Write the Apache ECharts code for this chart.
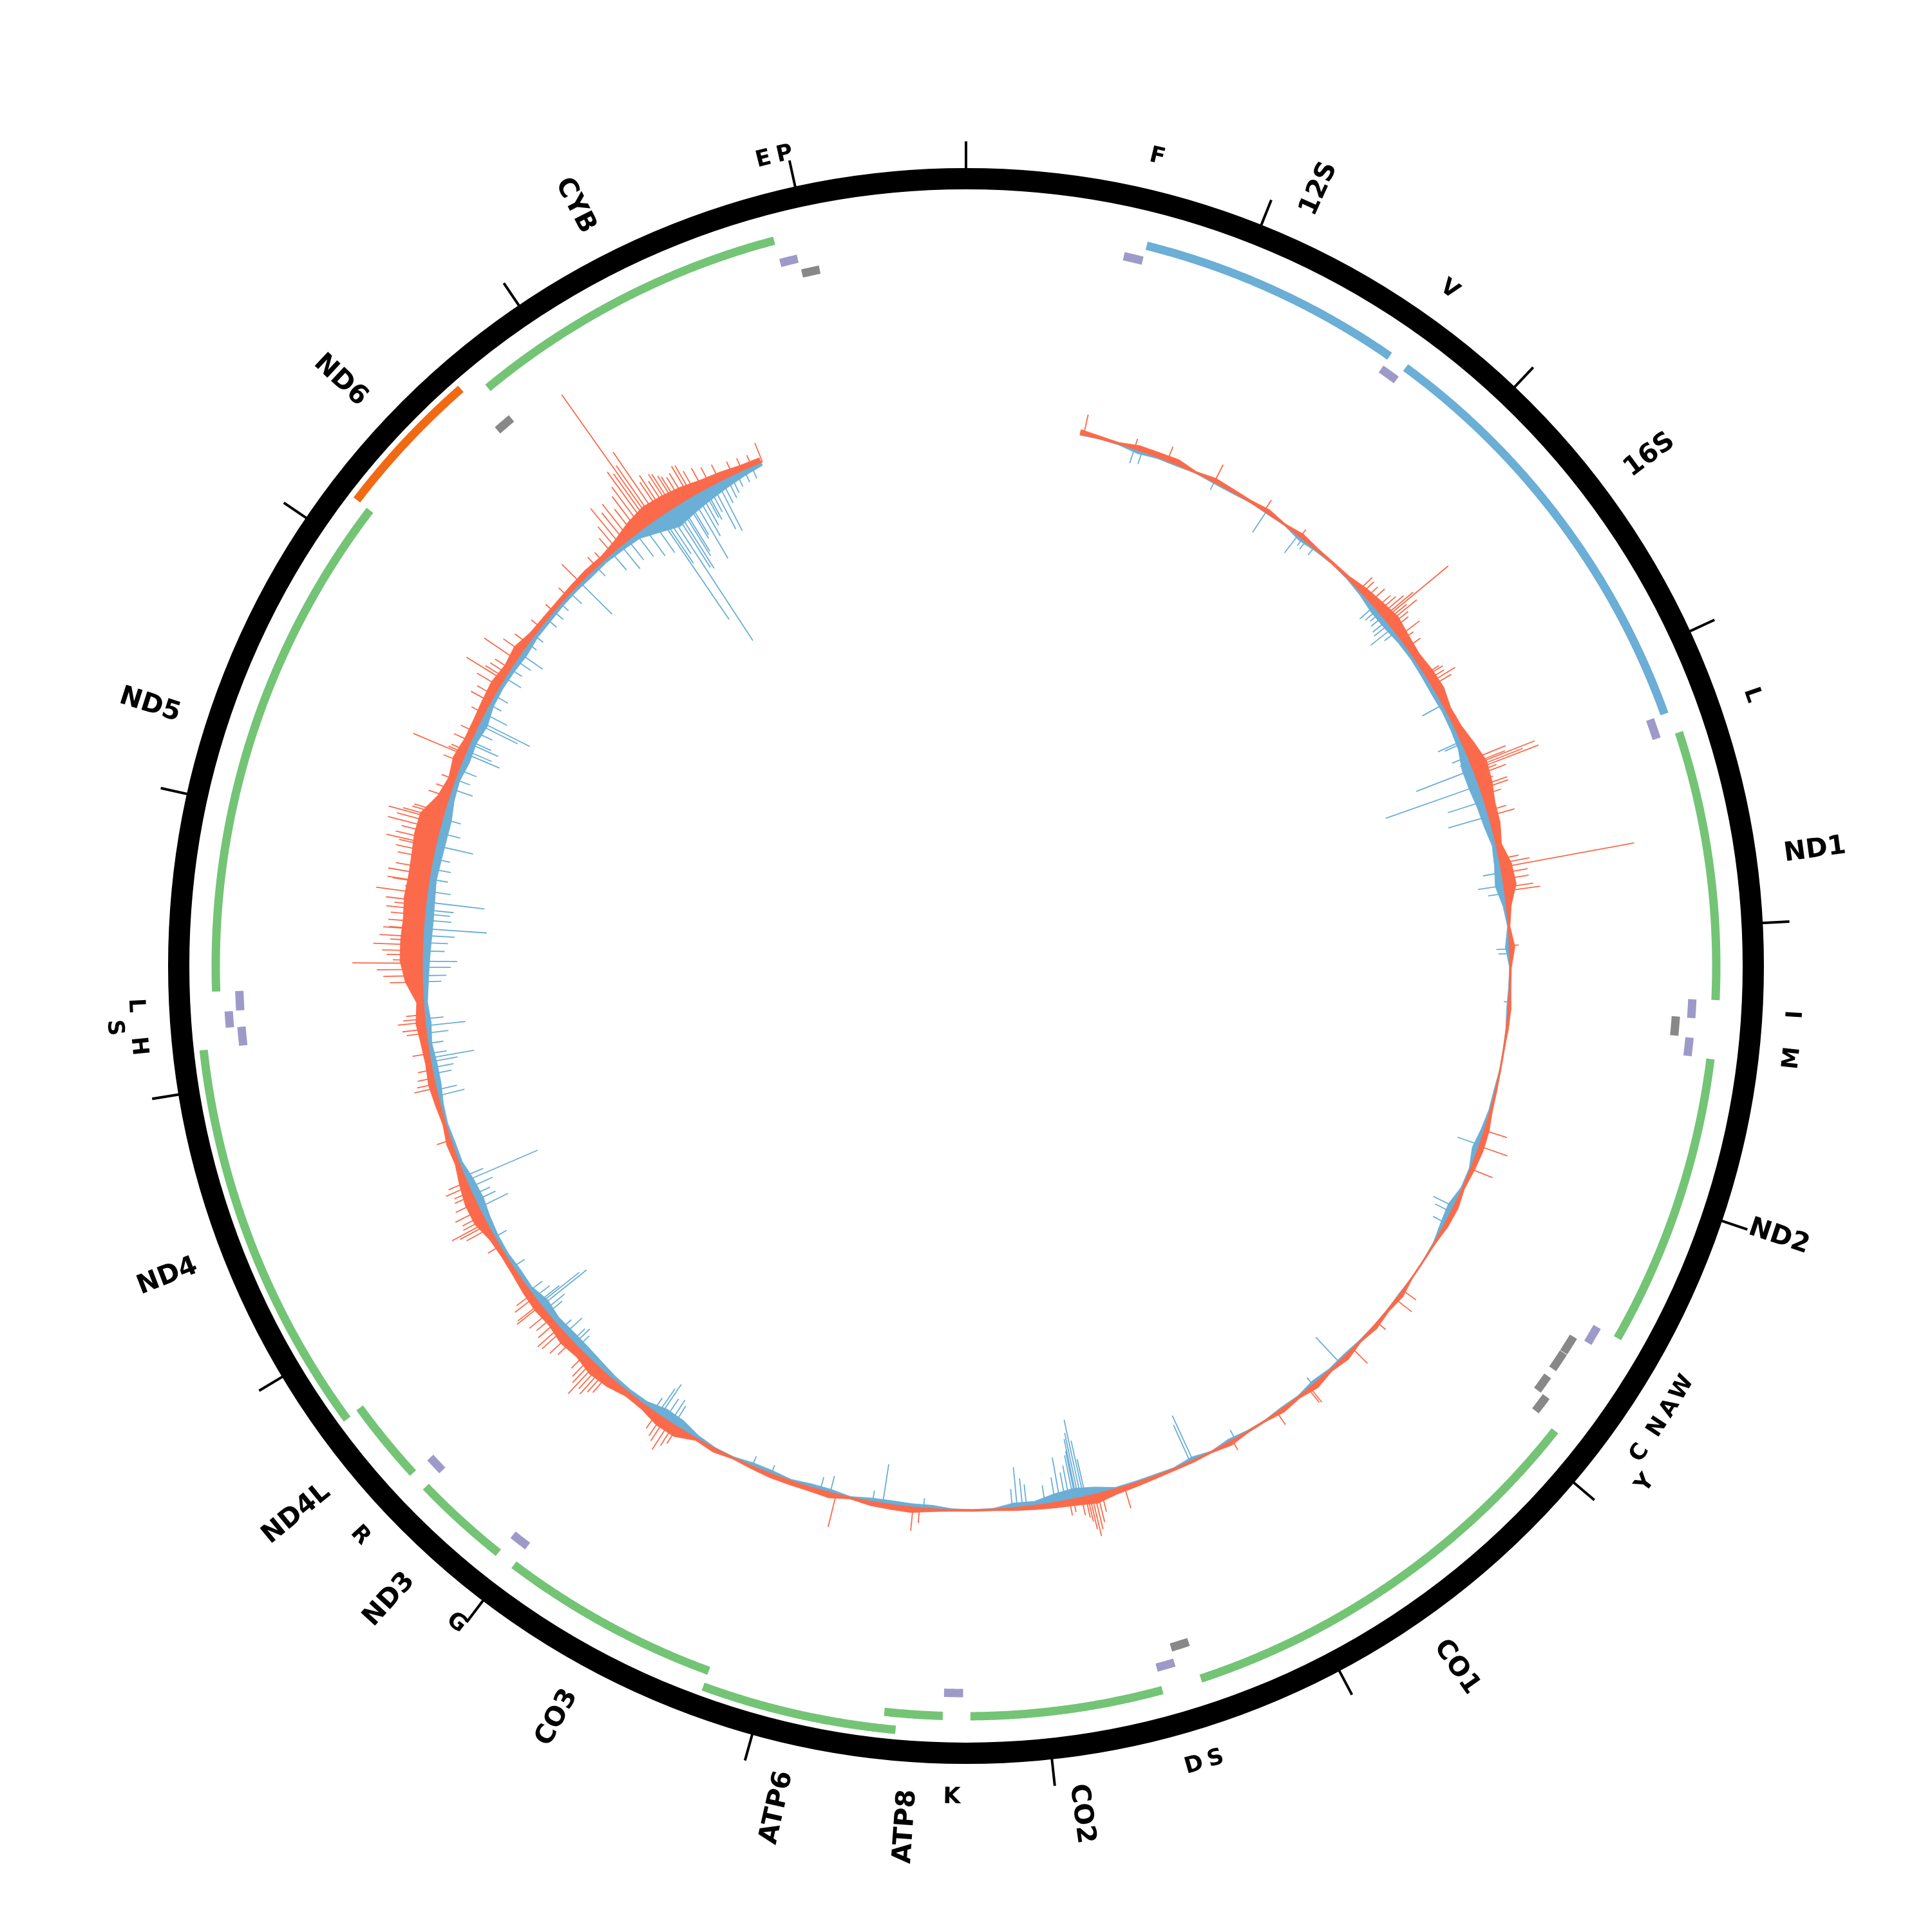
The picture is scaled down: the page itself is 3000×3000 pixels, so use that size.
<!DOCTYPE html>
<html><head><meta charset="utf-8">
<script src="https://cdn.jsdelivr.net/npm/echarts@6/dist/echarts.min.js"></script>
<style>html,body{margin:0;padding:0;background:#fff}#c{width:3000px;height:3000px}</style>
</head><body><div id="c"></div>
<script>
// ---------------- DATA ----------------
const GENOME_LENGTH = 16569;
const TICK_INTERVAL = 1000;

const geneNames  = ['12S','16S','ND1','ND2','CO1','CO2','ATP8','ATP6','CO3','ND3','ND4L','ND4','ND5','ND6','CYB'];
const geneStart  = [648,1671,3307,4470,5904,7586,8366,8527,9207,10059,10470,10760,12337,14149,14747];
const geneEnd    = [1601,3229,4262,5511,7445,8269,8572,9207,9990,10404,10766,12137,14148,14673,15887];
const geneKind   = ['rRNA','rRNA','H','H','H','H','H','H','H','H','H','H','H','L','H'];

const trnaStart  = [577,1602,3230,4263,4329,4402,5512,5587,5657,5761,5826,7446,7518,8295,9991,10405,12138,12207,12266,14674,15888,15956];
const trnaEnd    = [647,1670,3304,4331,4400,4469,5579,5655,5729,5826,5891,7514,7585,8364,10058,10469,12206,12265,12336,14742,15953,16023];
const trnaStrand = ['H','H','H','H','L','H','H','L','L','L','L','L','H','H','H','H','H','H','H','L','H','L'];
const trnaLabel  = ['F','V','L','I','','M','W','A','N','C','Y','S','D','K','G','R','H','S','L','','E','P'];

// coverage: binned core envelope (bin centres from 550, every 100 bp)
const covRange = [557, 15557];
const covBinFirst = 550;
const covBinStep = 100;
const redEnvelope = [
 7,4,2,7,7,8,2,6,4,3,
 6,2,6,3,3,4,10,14,18,13,
 10,13,14,8,10,17,24,21,15,14,
 8,17,19,7,2,8,2,2,4,3,
 1,1,2,3,7,8,6,3,7,6,
 2,1,1,6,3,6,2,7,3,8,
 3,6,2,2,6,2,3,3,4,6,
 8,14,10,8,6,4,2,2,2,4,
 8,7,6,2,8,6,6,6,4,2,
 6,3,15,15,8,7,14,17,12,15,
 10,12,10,7,6,8,17,17,12,6,
 8,4,7,10,8,10,14,10,26,34,
 34,32,34,32,33,36,35,17,10,15,
 10,10,12,14,10,14,7,6,6,7,
 8,7,12,21,27,25,21,15,12,8,
 7];
const blueEnvelope = [
 2,1,2,6,3,3,1,3,3,1,
 2,1,6,3,1,2,5,10,10,7,
 6,7,8,7,8,10,17,17,14,12,
 7,10,14,6,2,7,1,2,3,1,
 1,1,3,3,6,10,3,3,10,7,
 2,1,1,2,1,1,2,4,3,6,
 2,3,1,2,5,1,6,2,3,3,
 3,12,17,14,7,8,2,1,2,6,
 6,7,6,2,6,6,3,6,6,2,
 2,6,14,15,7,6,7,10,12,12,
 10,14,7,8,6,7,10,14,12,6,
 6,4,6,10,10,7,10,7,10,12,
 14,15,14,12,14,15,15,10,8,12,
 10,14,8,7,8,10,7,7,6,6,
 7,6,8,10,21,31,25,20,15,10,
 6];
// individual spikes [position, height]
const redSpikes = [
 [575,32],[830,16],[1000,23],[1250,30],[1530,20],[1745,14],[2130,28],[2150,25],[2180,24],[2209,30],
 [2250,30],[2270,35],[2290,45],[2306,60],[2316,128],[2330,40],[2343,57],[2360,35],[2380,30],[2427,40],
 [2450,22],[2494,25],[2650,25],[2660,30],[2680,28],[2697,45],[2715,34],[3120,60],[3140,56],[3148,105],
 [3160,83],[3171,108],[3185,36],[3200,50],[3230,25],[3255,45],[3270,45],[3300,30],[3380,30],[3406,41],
 [3620,30],[3642,46],[3662,210],[3690,40],[3720,40],[3760,45],[3778,55],[4042,14],[4952,36],[5032,46],
 [5150,36],[5826,25],[5882,31],[6025,17],[6200,32],[6480,29],[6490,27],[6680,23],[6935,17],[7506,35],
 [7620,30],[7640,45],[7655,55],[7669,65],[7680,53],[7690,40],[7700,33],[7720,28],[7760,20],[7780,24],
 [8510,23],[8542,36],[8920,52],[9760,30],[9780,38],[9803,50],[9830,40],[9850,35],[9880,28],[10180,35],
 [10200,40],[10220,50],[10240,45],[10260,62],[10280,45],[10300,38],[10330,30],[10420,30],[10450,38],[10490,42],
 [10510,45],[10540,35],[10570,30],[10600,36],[10650,47],[10660,43],[10700,38],[10720,30],[11000,21],[11100,40],
 [11120,48],[11132,60],[11150,37],[11170,35],[11200,42],[11240,35],[11280,30],[11300,28],[11327,38],[11350,30],
 [11568,22],[11830,34],[11850,28],[11880,25],[11920,22],[12000,26],[12100,30],[12120,36],[12153,42],[12170,33],
 [12190,28],[12350,50],[12380,60],[12410,70],[12440,108],[12455,45],[12480,55],[12500,62],[12528,76],[12550,50],
 [12568,67],[12604,62],[12607,53],[12640,55],[12673,52],[12700,60],[12720,48],[12740,62],[12777,79],[12802,35],
 [12830,56],[12833,64],[12870,65],[12900,55],[12950,55],[12980,60],[13006,57],[13016,78],[13040,65],[13070,58],
 [13094,82],[13120,70],[13140,85],[13150,63],[13168,50],[13180,48],[13260,33],[13300,25],[13350,22],[13440,30],
 [13477,86],[13486,28],[13500,25],[13550,28],[13600,24],[13700,22],[13763,34],[13800,30],[13850,40],[13887,67],
 [13900,35],[13923,31],[13950,28],[14003,60],[14050,35],[14100,25],[14200,18],[14300,16],[14400,18],[14490,40],
 [14600,20],[14640,18],[14700,30],[14730,45],[14757,74],[14784,58],[14810,68],[14840,50],[14866,68],[14890,80],
 [14913,103],[14930,95],[14945,242],[14960,103],[14982,123],[15005,61],[15020,70],[15040,55],[15057,64],[15070,61],
 [15088,54],[15100,50],[15120,45],[15140,48],[15165,56],[15180,54],[15200,40],[15240,38],[15280,32],[15330,28],
 [15400,22],[15450,20],[15500,18],[15557,31]];
const blueSpikes = [
 [830,24],[870,21],[1250,14],[1540,38],[1732,35],[1760,14],[1780,16],[1830,15],[2237,30],[2260,25],
 [2280,20],[2302,24],[2330,28],[2350,30],[2375,43],[2400,22],[2820,37],[3019,40],[3030,30],[3100,27],
 [3130,18],[3167,95],[3250,154],[3330,60],[3407,66],[3687,30],[3751,41],[3790,27],[4060,21],[4083,18],
 [4317,8],[5026,37],[5350,36],[5380,28],[5440,22],[6292,53],[6460,15],[6920,16],[7150,77],[7165,63],
 [7700,60],[7710,90],[7723,124],[7735,104],[7745,95],[7750,76],[7760,70],[7780,55],[7800,45],[7826,70],
 [7850,40],[7900,30],[7990,35],[8010,45],[8036,63],[8060,30],[8490,16],[8690,62],[8740,18],[8950,27],
 [9000,21],[9250,15],[9350,17],[9780,35],[9800,42],[9830,38],[9860,59],[9874,48],[9900,25],[10380,25],
 [10403,33],[10420,28],[10470,36],[10500,22],[10600,30],[10620,40],[10646,90],[10660,79],[10670,42],[10700,30],
 [10740,25],[10880,22],[11050,22],[11212,51],[11250,35],[11280,30],[11320,40],[11356,121],[11380,32],[11791,43],
 [11820,33],[11900,30],[11930,35],[11960,43],[11979,70],[12000,28],[12050,25],[12100,35],[12136,63],[12170,30],
 [12350,30],[12380,38],[12420,45],[12450,55],[12500,35],[12540,40],[12575,50],[12608,99],[12650,43],[12680,40],
 [12700,45],[12738,92],[12790,37],[12850,30],[12900,32],[12950,28],[13016,60],[13080,35],[13150,30],[13301,35],
 [13350,25],[13400,30],[13485,58],[13500,43],[13537,49],[13550,35],[13600,30],[13640,68],[13656,87],[13700,40],
 [13750,22],[13800,25],[13900,30],[13950,22],[14000,28],[14039,42],[14100,17],[14150,18],[14250,20],[14300,20],
 [14350,17],[14420,25],[14490,70],[14600,20],[14700,35],[14757,47],[14800,40],[14850,45],[14900,55],[14950,60],
 [14988,193],[15000,90],[15018,76],[15040,241],[15065,110],[15080,114],[15100,95],[15110,88],[15140,70],[15150,65],
 [15175,112],[15200,76],[15220,60],[15240,50],[15250,55],[15270,45],[15290,78],[15317,85],[15340,40],[15368,36],
 [15390,30],[15420,24],[15460,22],[15500,21]];

// ---------------- STYLE ----------------
const AXIS_R = 1222.5, RING_W = 33;
const BASE_R = 845;
const GENE_R0 = {rRNA:1153, H:1165, L:1165}, GENE_R1 = 1191, GENE_W = 13;
const TRNA_R = {H:[1129,1147], L:[1105,1122]}, TRNA_W = 13;
const GENE_LABEL_R = 1282, TRNA_LABEL_R = [1291, 1326];
const COL = {red:'#fb6a4a', blue:'#6baed6', green:'#74c476', rRNA:'#6baed6', L:'#f16913', trnaH:'#9e9ac8', trnaL:'#888888'};
const FONT = '"DejaVu Sans", sans-serif';

// ---------------- BUILD ----------------
function levels(starts, ends, groups, gap){
  const last = {}; const out = [];
  for (let i=0;i<starts.length;i++){
    const g = groups ? groups[i] : 'all';
    if (!last[g]) last[g] = [-1e9,-1e9];
    const lv = (starts[i] > last[g][0] + gap) ? 0 : 1;
    last[g][lv] = Math.max(last[g][lv], ends[i]);
    out.push(lv);
  }
  return out;
}
const geneLevel = levels(geneStart, geneEnd, null, 1);
const trnaLevel = levels(trnaStart, trnaEnd, trnaStrand, 1);
const trnaLabelLevel = (function(){
  const out=[]; let lastPos=-1e9;
  for (let i=0;i<trnaLabel.length;i++){
    if (!trnaLabel[i]) { out.push(0); continue; }
    const mid=(trnaStart[i]+trnaEnd[i])/2;
    const lv = (mid - lastPos < 68) ? 1 : 0;
    if (lv===0) lastPos = mid; else lastPos = -1e9;
    out.push(lv);
  }
  return out;
})();

function arcPts(api, r, a0, a1){
  const n = Math.max(2, Math.ceil((a1-a0)/6)); const pts=[];
  for (let k=0;k<=n;k++) pts.push(api.coord([r, a0+(a1-a0)*k/n]));
  return pts;
}
function thetaDeg(api, p){
  const c = api.coord([0, 0]); const q = api.coord([1000, p]);
  let t = Math.atan2(q[0]-c[0], -(q[1]-c[1]))*180/Math.PI;
  if (t<0) t+=360; return t;
}

const envData = (arr)=> arr.slice(0,-1).map((v,i)=>[BASE_R, covBinFirst+i*covBinStep, v, arr[i+1]]);

function envRender(sign, color){
  return function(params, api){
    let p0 = api.value(1), p1 = p0 + covBinStep;
    const v0 = api.value(2), v1 = api.value(3);
    p0 = Math.max(p0, covRange[0]); p1 = Math.min(p1, covRange[1]);
    const pts = [api.coord([BASE_R,p0]), api.coord([BASE_R,p1]), api.coord([BASE_R+sign*v1,p1]), api.coord([BASE_R+sign*v0,p0])];
    return {type:'polygon', shape:{points:pts}, style:{fill:color, stroke:color, lineWidth:0.8}};
  };
}
function spikeRender(sign, color){
  return function(params, api){
    const p = api.value(1), h = api.value(2);
    const a = api.coord([BASE_R, p]), b = api.coord([BASE_R+sign*h, p]);
    return {type:'line', shape:{x1:a[0],y1:a[1],x2:b[0],y2:b[1]}, style:{stroke:color, lineWidth:1.8}};
  };
}

const option = {
  backgroundColor:'#ffffff',
  animation:false,
  polar:{center:[1500,1500], radius:AXIS_R},
  radiusAxis:{type:'value', min:0, max:AXIS_R, show:false},
  angleAxis:{type:'value', min:0, max:GENOME_LENGTH, interval:TICK_INTERVAL, startAngle:90, clockwise:true,
    axisLine:{show:true, lineStyle:{color:'#000', width:RING_W}},
    axisTick:{show:true, inside:false, length:58, lineStyle:{color:'#000', width:4}},
    axisLabel:{show:false}, splitLine:{show:false}},
  series:[
    {type:'custom', coordinateSystem:'polar', silent:true, z:1, data:envData(blueEnvelope), renderItem:envRender(-1, COL.blue)},
    {type:'custom', coordinateSystem:'polar', silent:true, z:1, data:envData(redEnvelope), renderItem:envRender(1, COL.red)},
    {type:'custom', coordinateSystem:'polar', silent:true, z:2, data:blueSpikes.map(s=>[BASE_R, s[0], s[1]]), renderItem:spikeRender(-1, COL.blue)},
    {type:'custom', coordinateSystem:'polar', silent:true, z:2, data:redSpikes.map(s=>[BASE_R, s[0], s[1]]), renderItem:spikeRender(1, COL.red)},
    {type:'custom', coordinateSystem:'polar', silent:true, z:3, data:[[BASE_R, covRange[0], covRange[1]]],
      renderItem:function(params, api){
        return {type:'polyline', shape:{points:arcPts(api, BASE_R, api.value(1), api.value(2))}, style:{stroke:COL.red, lineWidth:3, fill:'none'}};
      }},
    {type:'custom', coordinateSystem:'polar', silent:true, z:4,
      data:geneNames.map((n,i)=>[geneLevel[i]?GENE_R1:GENE_R0[geneKind[i]], geneStart[i], geneEnd[i], i]),
      renderItem:function(params, api){
        const i = api.value(3); const k = geneKind[i];
        const col = k==='rRNA'?COL.rRNA:(k==='L'?COL.L:COL.green);
        return {type:'polyline', shape:{points:arcPts(api, api.value(0), api.value(1), api.value(2))}, style:{stroke:col, lineWidth:GENE_W, fill:'none', lineCap:'butt'}};
      }},
    {type:'custom', coordinateSystem:'polar', silent:true, z:4,
      data:trnaStart.map((s,i)=>[TRNA_R[trnaStrand[i]][trnaLevel[i]], s, trnaEnd[i], i]),
      renderItem:function(params, api){
        const i = api.value(3);
        const col = trnaStrand[i]==='H'?COL.trnaH:COL.trnaL;
        return {type:'polyline', shape:{points:arcPts(api, api.value(0), api.value(1), api.value(2))}, style:{stroke:col, lineWidth:TRNA_W, fill:'none', lineCap:'butt'}};
      }},
    {type:'custom', coordinateSystem:'polar', silent:true, z:5,
      data:geneNames.map((n,i)=>[GENE_LABEL_R, (geneStart[i]+geneEnd[i])/2, i]),
      renderItem:function(params, api){
        const i = api.value(2), p = api.value(1);
        const pt = api.coord([api.value(0), p]); const t = thetaDeg(api, p);
        let rot, align;
        if (t < 180) { rot = t-90; align='left'; } else { rot = t-270; align='right'; }
        return {type:'text', x:pt[0], y:pt[1], rotation:-rot*Math.PI/180,
          style:{text:geneNames[i], fill:'#000', fontSize:41, fontWeight:'bold', fontFamily:FONT, align:align, verticalAlign:'middle'}};
      }},
    {type:'custom', coordinateSystem:'polar', silent:true, z:5,
      data:trnaLabel.map((n,i)=>[TRNA_LABEL_R[trnaLabelLevel[i]], (trnaStart[i]+trnaEnd[i])/2, i]).filter(d=>trnaLabel[d[2]]),
      renderItem:function(params, api){
        const i = api.value(2), p = api.value(1);
        const pt = api.coord([api.value(0), p]); const t = thetaDeg(api, p);
        const rot = (t<=90 || t>=270) ? t : t-180;
        return {type:'text', x:pt[0], y:pt[1], rotation:-rot*Math.PI/180,
          style:{text:trnaLabel[i], fill:'#000', fontSize:35, fontWeight:'bold', fontFamily:FONT, align:'center', verticalAlign:'middle'}};
      }}
  ]
};
const chart = echarts.init(document.getElementById('c'), null, {renderer:'canvas', width:3000, height:3000});
chart.setOption(option);
</script>
</body></html>
